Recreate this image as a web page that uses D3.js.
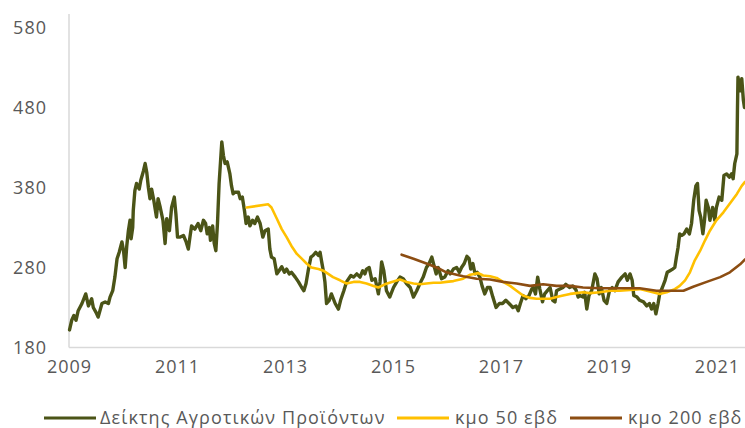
<!DOCTYPE html>
<html>
<head>
<meta charset="utf-8">
<script src="https://cdn.jsdelivr.net/npm/d3@7"></script>
<style>
  body { margin: 0; background: #fff; }
  text { font-family: "Open Sans", sans-serif; fill: #595959; }
  .axis-line { stroke: #d9d9d9; stroke-width: 1.5px; }
</style>
</head>
<body>
<svg width="745" height="428"></svg>
<script>

// Δείκτης Αγροτικών Προϊόντων, weekly as [year, value]
var indexSeries = [
  [2009.01,202],[2009.05,214],[2009.09,220],[2009.13,214],[2009.17,226],[2009.24,235],[2009.31,247],
  [2009.36,232],[2009.42,241],[2009.45,230],[2009.50,224],[2009.54,218],[2009.61,235],[2009.67,237],
  [2009.73,235],[2009.76,243],[2009.81,251],[2009.85,268],[2009.89,291],[2009.93,299],[2009.98,312],
  [2010.01,301],[2010.04,280],[2010.07,307],[2010.10,326],[2010.13,339],[2010.15,316],[2010.18,330],
  [2010.19,351],[2010.22,376],[2010.25,385],[2010.30,378],[2010.33,389],[2010.38,401],[2010.41,410],
  [2010.44,399],[2010.47,380],[2010.50,366],[2010.53,378],[2010.57,364],[2010.62,343],[2010.65,366],
  [2010.69,355],[2010.74,339],[2010.78,310],[2010.81,341],[2010.86,326],[2010.90,355],[2010.95,368],
  [2010.98,347],[2011.01,318],[2011.06,318],[2011.12,320],[2011.17,312],[2011.21,303],[2011.24,318],
  [2011.27,332],[2011.33,328],[2011.39,335],[2011.44,326],[2011.49,339],[2011.53,335],[2011.56,322],
  [2011.60,330],[2011.62,314],[2011.66,332],[2011.69,310],[2011.72,301],[2011.75,335],[2011.78,385],
  [2011.83,437],[2011.86,420],[2011.89,410],[2011.93,412],[2011.98,397],[2012.01,382],[2012.04,372],
  [2012.07,374],[2012.14,374],[2012.17,366],[2012.21,368],[2012.25,351],[2012.28,335],[2012.32,343],
  [2012.35,332],[2012.40,339],[2012.44,335],[2012.49,343],[2012.54,335],[2012.59,318],[2012.63,326],
  [2012.69,328],[2012.72,303],[2012.75,293],[2012.80,291],[2012.85,272],[2012.89,276],[2012.94,281],
  [2012.99,274],[2013.03,278],[2013.08,272],[2013.12,274],[2013.19,268],[2013.25,262],[2013.31,255],
  [2013.35,251],[2013.39,260],[2013.43,276],[2013.48,293],[2013.52,295],[2013.57,299],[2013.62,295],
  [2013.65,299],[2013.68,287],[2013.72,272],[2013.74,262],[2013.77,235],[2013.82,239],[2013.86,247],
  [2013.93,235],[2013.99,228],[2014.03,239],[2014.09,251],[2014.14,262],[2014.22,270],[2014.27,268],
  [2014.33,272],[2014.39,268],[2014.44,276],[2014.48,272],[2014.51,278],[2014.56,280],[2014.61,264],
  [2014.67,266],[2014.73,247],[2014.76,262],[2014.79,287],[2014.83,276],[2014.88,251],[2014.94,243],
  [2015.01,255],[2015.07,262],[2015.13,268],[2015.19,266],[2015.25,260],[2015.32,255],[2015.38,243],
  [2015.44,251],[2015.50,260],[2015.56,268],[2015.62,280],[2015.67,285],[2015.72,293],[2015.75,285],
  [2015.80,272],[2015.84,280],[2015.90,266],[2015.96,268],[2016.02,276],[2016.06,272],[2016.12,278],
  [2016.18,280],[2016.23,274],[2016.27,280],[2016.32,285],[2016.37,294],[2016.41,291],[2016.44,278],
  [2016.48,285],[2016.52,272],[2016.56,274],[2016.61,268],[2016.65,257],[2016.70,247],[2016.75,255],
  [2016.80,255],[2016.85,243],[2016.91,230],[2016.97,235],[2017.03,235],[2017.09,239],[2017.15,235],
  [2017.22,230],[2017.28,232],[2017.32,226],[2017.36,235],[2017.41,245],[2017.46,241],[2017.52,245],
  [2017.57,253],[2017.60,255],[2017.64,247],[2017.68,268],[2017.72,253],[2017.77,237],[2017.81,247],
  [2017.86,251],[2017.91,255],[2017.96,239],[2018.00,237],[2018.03,251],[2018.09,253],[2018.15,255],
  [2018.20,259],[2018.27,255],[2018.33,257],[2018.39,252],[2018.43,243],[2018.46,245],[2018.52,243],
  [2018.55,249],[2018.59,228],[2018.63,245],[2018.68,251],[2018.74,272],[2018.78,266],[2018.82,247],
  [2018.86,255],[2018.91,239],[2018.96,235],[2019.01,251],[2019.06,255],[2019.11,251],[2019.17,262],
  [2019.24,268],[2019.30,272],[2019.34,264],[2019.39,272],[2019.43,264],[2019.46,245],[2019.52,243],
  [2019.57,239],[2019.64,237],[2019.70,232],[2019.75,235],[2019.79,228],[2019.83,235],[2019.87,222],
  [2019.91,235],[2019.94,247],[2019.99,255],[2020.04,264],[2020.08,274],[2020.13,276],[2020.18,278],
  [2020.22,280],[2020.25,293],[2020.28,305],[2020.31,322],[2020.35,320],[2020.39,322],[2020.44,328],
  [2020.49,322],[2020.53,335],[2020.57,364],[2020.61,382],[2020.64,385],[2020.67,351],[2020.70,343],
  [2020.74,322],[2020.77,339],[2020.80,364],[2020.84,355],[2020.87,339],[2020.92,355],[2020.96,339],
  [2020.99,355],[2021.04,368],[2021.09,364],[2021.13,395],[2021.18,397],[2021.23,393],[2021.27,397],
  [2021.30,391],[2021.33,410],[2021.37,422],[2021.38,476],[2021.39,518],[2021.43,501],[2021.46,516],
  [2021.49,489],[2021.51,480]
];

// κμο 50 εβδ
var ma50Series = [
  [2012.29,355],[2012.69,359],[2012.75,355],[2012.85,341],[2012.94,328],[2013.03,318],[2013.12,307],
  [2013.22,297],[2013.31,291],[2013.40,285],[2013.49,280],[2013.62,278],[2013.71,276],[2013.80,272],
  [2013.89,268],[2014.02,264],[2014.14,260],[2014.27,262],[2014.39,262],[2014.51,260],[2014.64,257],
  [2014.73,255],[2014.85,259],[2014.98,262],[2015.13,265],[2015.25,262],[2015.38,260],[2015.50,259],
  [2015.62,260],[2015.75,261],[2015.87,261],[2015.99,262],[2016.12,263],[2016.30,266],[2016.43,271],
  [2016.58,273],[2016.67,270],[2016.80,269],[2016.92,267],[2017.04,262],[2017.17,257],[2017.29,251],
  [2017.41,245],[2017.54,242],[2017.66,241],[2017.78,241],[2017.91,241],[2018.03,243],[2018.15,245],
  [2018.28,247],[2018.40,248],[2018.52,249],[2018.65,248],[2018.83,249],[2019.02,251],[2019.20,251],
  [2019.39,252],[2019.57,253],[2019.76,250],[2019.94,247],[2020.07,249],[2020.22,253],[2020.31,257],
  [2020.41,264],[2020.50,274],[2020.59,289],[2020.69,301],[2020.78,314],[2020.87,326],[2020.99,339],
  [2021.12,349],[2021.24,360],[2021.37,372],[2021.46,382],[2021.52,387]
];

// κμο 200 εβδ
var ma200Series = [
  [2015.16,296],[2015.38,291],[2015.62,285],[2015.81,280],[2015.99,274],[2016.18,271],[2016.30,269],
  [2016.55,266],[2016.80,265],[2017.04,262],[2017.29,260],[2017.54,257],[2017.78,259],[2018.03,257],
  [2018.28,257],[2018.52,255],[2018.83,254],[2019.20,254],[2019.57,254],[2019.88,251],[2020.19,251],
  [2020.38,251],[2020.56,256],[2020.81,262],[2021.06,268],[2021.24,274],[2021.43,284],[2021.52,290]
];

var seriesNames = ["Δείκτης Αγροτικών Προϊόντων", "κμο 50 εβδ", "κμο 200 εβδ"];
var seriesColors = ["#4b5417", "#ffc000", "#8c4d12"];
var seriesWidths = [3.4, 2.6, 2.6];
var yTicks = [180, 280, 380, 480, 580];
var xTicks = [2009, 2011, 2013, 2015, 2017, 2019, 2021];

var svg = d3.select("svg");

var x = d3.scaleLinear().domain([2009, 2021.52]).range([69, 745]);
var y = d3.scaleLinear().domain([180, 580]).range([347.5, 27.5]);

// axis lines
svg.append("line").attr("class", "axis-line")
    .attr("x1", 69).attr("x2", 69).attr("y1", 14).attr("y2", y(180));
svg.append("line").attr("class", "axis-line")
    .attr("x1", 69).attr("x2", 745).attr("y1", y(180)).attr("y2", y(180));

var yAxis = d3.axisLeft(y).tickValues(yTicks).tickSize(0).tickPadding(0);
svg.append("g")
    .attr("transform", "translate(47,0)")
    .call(yAxis)
    .call(function(g) { g.select(".domain").remove(); })
    .selectAll("text")
      .style("font-size", "18px")
      .style("letter-spacing", "1px")
      .attr("fill", "#595959");

var xAxis = d3.axisBottom(x).tickValues(xTicks).tickFormat(d3.format("d")).tickSize(0).tickPadding(0);
svg.append("g")
    .attr("transform", "translate(0,360)")
    .call(xAxis)
    .call(function(g) { g.select(".domain").remove(); })
    .selectAll("text")
      .style("font-size", "18px")
      .style("letter-spacing", "1px")
      .attr("fill", "#595959");

var line = d3.line()
    .x(function(d) { return x(d[0]); })
    .y(function(d) { return y(d[1]); });

var allSeries = [indexSeries, ma50Series, ma200Series];
svg.append("g")
  .selectAll("path")
  .data(allSeries)
  .enter().append("path")
    .attr("d", line)
    .attr("fill", "none")
    .attr("stroke", function(d, i) { return seriesColors[i]; })
    .attr("stroke-width", function(d, i) { return seriesWidths[i]; })
    .attr("stroke-linejoin", "round")
    .attr("stroke-linecap", "round");

// legend
var legendPos = [[44, 100], [397, 455], [570, 628]];
var legend = svg.append("g").selectAll("g")
    .data(seriesNames)
    .enter().append("g");

legend.append("line")
    .attr("x1", function(d, i) { return legendPos[i][0]; })
    .attr("x2", function(d, i) { return legendPos[i][0] + 52; })
    .attr("y1", 418).attr("y2", 418)
    .attr("stroke", function(d, i) { return seriesColors[i]; })
    .attr("stroke-width", 3.2);

legend.append("text")
    .attr("x", function(d, i) { return legendPos[i][1]; })
    .attr("y", 424)
    .style("font-size", "18px")
    .style("letter-spacing", "1.1px")
    .text(function(d) { return d; });

</script>
</body>
</html>
